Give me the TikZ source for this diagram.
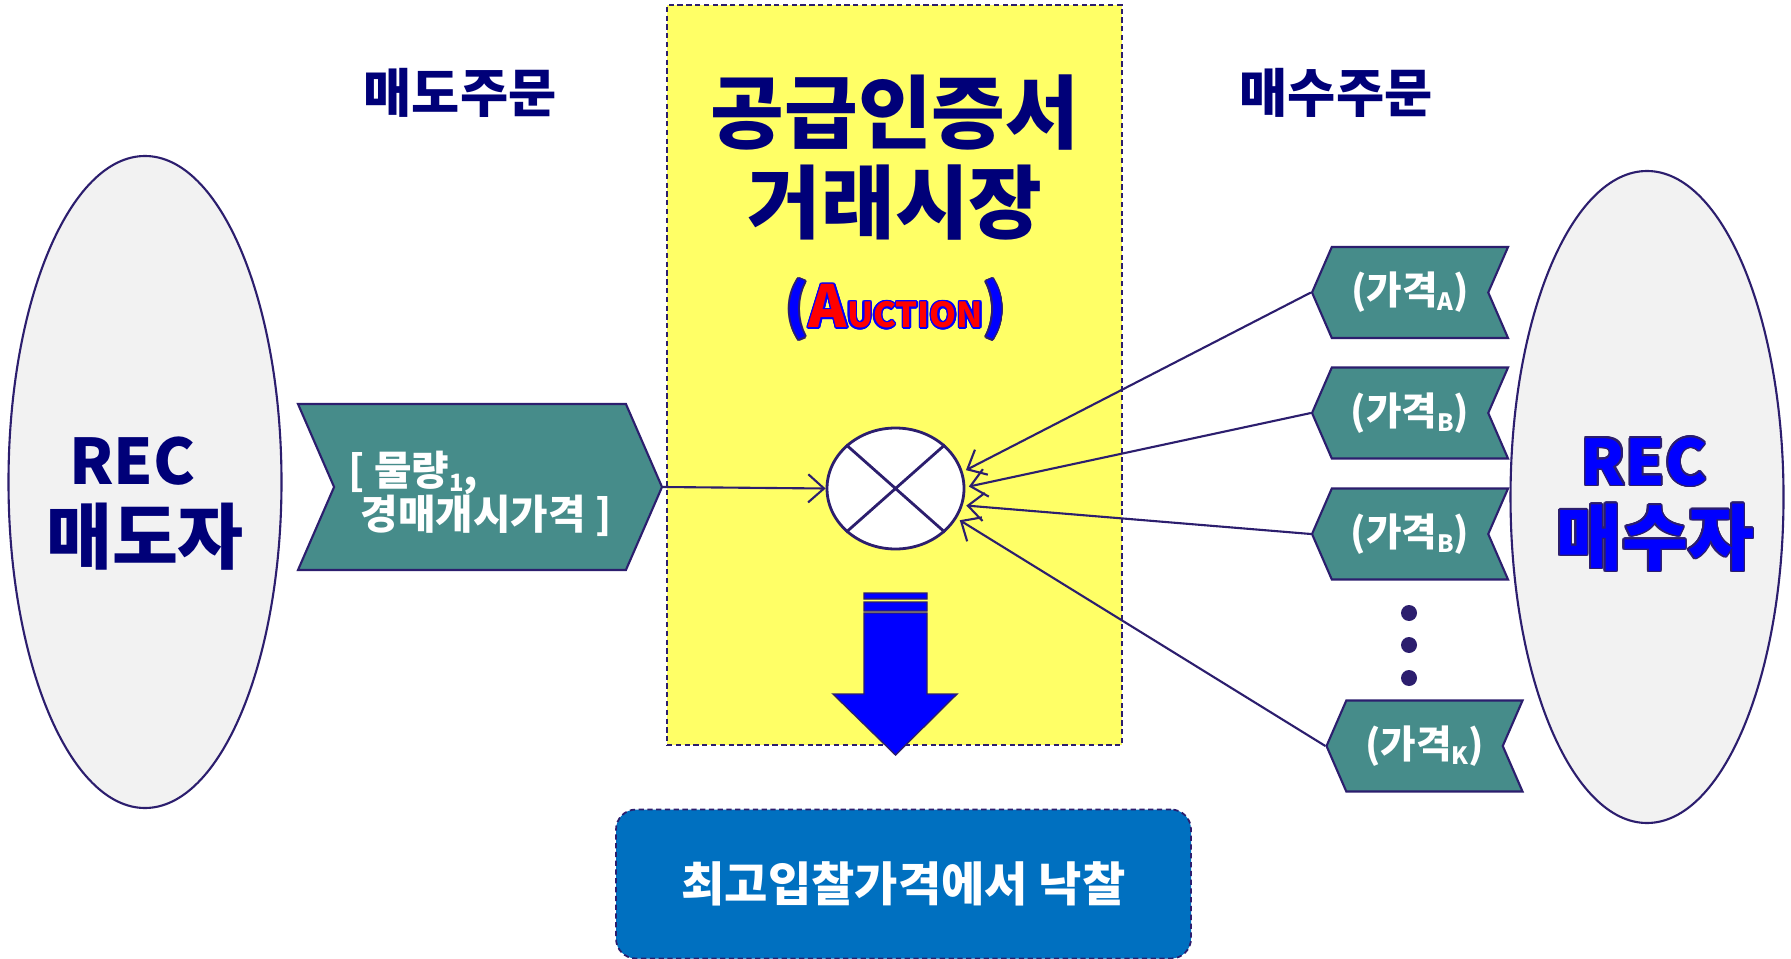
\documentclass[tikz,border=0pt]{standalone}
\usepackage{fontspec}
\setmainfont{Noto Sans CJK KR}
\usepackage{contour}
\usetikzlibrary{arrows.meta}
\usetikzlibrary{positioning}
\usetikzlibrary{shapes.geometric, shapes.symbols}

\definecolor{ink}{RGB}{44,30,110}
\definecolor{navytext}{RGB}{0,0,120}
\definecolor{chevgreen}{RGB}{70,140,138}
\definecolor{pale}{RGB}{242,242,242}
\definecolor{marketyellow}{RGB}{255,255,102}
\definecolor{resultblue}{RGB}{0,112,192}
\definecolor{arrowblue}{RGB}{0,0,255}

\newcommand{\lowsub}[1]{\raisebox{-0.15em}{\fontsize{6.8}{7}\selectfont #1}}
\contourlength{0.45pt}

\tikzset{
  party/.style={ellipse, draw=ink, line width=0.6pt, fill=pale,
    minimum width=2.73cm, minimum height=6.52cm, inner sep=0pt},
  sidetext/.style={align=center, font=\fontsize{17.9}{22.5}\selectfont\bfseries},
  heading/.style={text=navytext, font=\fontsize{14.9}{16}\selectfont\bfseries},
  market/.style={rectangle, draw=ink, line width=0.5pt, dash pattern=on 1.5pt off 1pt,
    fill=marketyellow, minimum width=4.55cm, minimum height=7.40cm},
  offer/.style={signal, signal to=east, signal from=west, signal pointer angle=133,
    draw=ink, line width=0.6pt, fill=chevgreen, text=white, align=left,
    font=\fontsize{11.6}{12.6}\selectfont\bfseries,
    minimum width=3.64cm, minimum height=1.66cm, inner sep=0pt},
  bid/.style={signal, signal to=west, signal from=east, signal pointer angle=133,
    draw=ink, line width=0.6pt, fill=chevgreen, text=white,
    font=\fontsize{11}{12}\selectfont\bfseries,
    minimum width=1.96cm, minimum height=0.91cm, inner sep=0pt},
  xor/.style={ellipse, draw=ink, line width=0.8pt, fill=white,
    minimum width=1.37cm, minimum height=1.21cm, inner sep=0pt},
  dot/.style={circle, fill=ink, minimum size=0.16cm, inner sep=0pt},
  link/.style={draw=ink, line width=0.6pt},
  result/.style={rectangle, rounded corners=0.2cm, draw=ink, line width=0.5pt,
    dash pattern=on 1.5pt off 1pt, fill=resultblue, text=white,
    font=\fontsize{13.4}{15}\selectfont\bfseries,
    minimum width=5.75cm, minimum height=1.49cm}
}

\begin{document}
\begin{tikzpicture}[>={Straight Barb[length=4.5pt,width=8pt]}]
    \fill[white] (0,0) rectangle (17.91,9.58);
    \useasboundingbox (0,0) rectangle (17.91,9.58);

    % market and the two parties
    \node[market] (market) at (8.945,5.83) {};
    \node[party] (seller) at (1.45,4.76) {};
    \node[party] (buyer) at (16.47,4.61) {};
    \node[sidetext, text=navytext] (sellername) at ([yshift=-0.22cm]seller.center) {REC\hspace*{0.4em}\\{\fontsize{20.4}{22.5}\selectfont 매도자}};
    \node[sidetext, text=arrowblue] (buyername) at ([xshift=0.08cm,yshift=-0.08cm]buyer.center) {\contour{ink}{REC}\hspace*{0.35em}\\{\fontsize{20.4}{22.5}\selectfont\contour{ink}{매수자}}};

    \node[heading] (sellorder) at (4.60,8.65) {매도주문};
    \node[heading] (buyorder) at (13.36,8.65) {매수주문};
    \node[align=center, text=navytext, font=\fontsize{22.8}{25.6}\selectfont\bfseries] (title) at (8.95,8.0) {공급인증서\\거래시장};
    \node[font=\bfseries] (auction) at (8.96,6.48) {\fontsize{16.5}{17}\selectfont\contour{ink}{\textcolor{arrowblue}{(}}\contour{arrowblue}{\textcolor{red}{A\fontsize{9.8}{10}\selectfont UCTION}}\contour{ink}{\textcolor{arrowblue}{)}}};

    % orders
    \node[offer] (offer) at (4.80,4.71) {\rule{0pt}{13.6pt}[ 물량\lowsub{1},\\\hspace*{0.3em}경매개시가격 ]};
    \node[xor] (xor) at (8.955,4.695) {};
    \draw[ink, line width=0.8pt] (xor.north west) -- (xor.south east) (xor.north east) -- (xor.south west);

    \node[bid] (bidA) at (14.10,6.655) {(가격\lowsub{A})};
    \node[bid] (bidB) at (14.10,5.45) {(가격\lowsub{B})};
    \node[bid] (bidC) at (14.10,4.24) {(가격\lowsub{B})};
    \node[bid] (bidK) at (14.245,2.12) {(가격\lowsub{K})};
    \node[dot] (dot1) at (14.09,3.45) {};
    \node[dot] (dot2) at (14.09,3.13) {};
    \node[dot] (dot3) at (14.09,2.80) {};

    \draw[link,->] (offer.east) -- (xor.west);
    \draw[link,->,shorten >=1pt] (bidA.west) -- (xor.14);
    \draw[link,->,shorten >=1pt] (bidB.west) -- (xor.1);
    \draw[link,->,shorten >=1pt] (bidC.west) -- (xor.-14);
    \draw[link,->,shorten >=1pt] (bidK.west) -- (xor.-26);

    % result
    \filldraw[fill=arrowblue, draw=ink, line width=0.4pt]
      (8.64,3.45) -- (8.64,2.64) -- (8.33,2.64) -- (8.955,2.03) -- (9.57,2.64) -- (9.27,2.64) -- (9.27,3.45) -- cycle
      (8.64,3.65) rectangle (9.27,3.59)
      (8.64,3.56) rectangle (9.27,3.47);
    \node[result] (result) at (9.035,0.74) {최고입찰가격에서 낙찰};
\end{tikzpicture}
\end{document}
